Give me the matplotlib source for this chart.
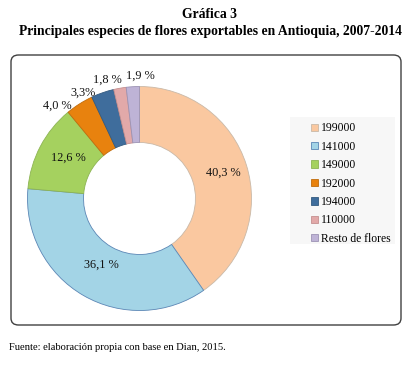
import matplotlib.pyplot as plt
from matplotlib.patches import FancyBboxPatch, Rectangle

plt.rcParams['font.family'] = ['Liberation Serif', 'DejaVu Serif']

# data
species = ['199000', '141000', '149000', '192000', '194000', '110000', 'Resto de flores']
shares = [40.3, 36.1, 12.6, 4.0, 3.3, 1.8, 1.9]
pct_labels = ['40,3 %', '36,1 %', '12,6 %', '4,0 %', '3,3%', '1,8 %', '1,9 %']
colors = ['#FAC8A0', '#A3D4E6', '#A5D15F', '#E8820E', '#3F6D9C', '#E2A9A9', '#BEB3D6']
edges = ['#C9B9A8', '#5B86B5', '#8DB454', '#C06C0C', '#335A80', '#C59090', '#9C93B4']

# label spots (unit = outer radius)
label_pos = [(0.746, 0.228), (-0.344, -0.594), (-0.638, 0.362), (-0.737, 0.826),
             (-0.504, 0.942), (-0.29, 1.058), (0.004, 1.094)]

W, H = 420, 379
fig = plt.figure(figsize=(W / 100, H / 100), dpi=100)

# frame around chart
frame = FancyBboxPatch((11 / W, 1 - 325 / H), (401 - 11) / W, (325 - 55) / H,
                       boxstyle='round,pad=0,rounding_size=0.018',
                       transform=fig.transFigure, facecolor='white',
                       edgecolor='#404040', linewidth=1.0, zorder=-2)
fig.patches.append(frame)
# legend background
fig.patches.append(Rectangle((290 / W, 1 - 244 / H), 105 / W, 127 / H,
                             transform=fig.transFigure, facecolor='#F7F7F7',
                             edgecolor='none', zorder=-1))

fig.text(0.5, 1 - 15 / H, 'Gráfica 3', ha='center', va='center',
         fontsize=9.8, fontweight='bold')
fig.text(0.5, 1 - 32 / H, 'Principales especies de flores exportables en Antioquia, 2007-2014',
         ha='center', va='center', fontsize=9.8, fontweight='bold')
fig.text(9 / W, 1 - 347 / H, 'Fuente: elaboración propia con base en Dian, 2015.',
         ha='left', va='center', fontsize=7.6)

R = 112
cx, cy = 139.5, 198.5
half = 1.2 * R
ax = fig.add_axes([(cx - half) / W, (H - cy - half) / H, 2 * half / W, 2 * half / H])
ax.set_zorder(2)
ax.patch.set_visible(False)

wedges, _ = ax.pie(shares, colors=colors, startangle=90, counterclock=False,
                   radius=1.0, wedgeprops=dict(width=0.5, linewidth=0.6))
for w, ec in zip(wedges, edges):
    w.set_edgecolor(ec)
ax.set_xlim(-1.2, 1.2)
ax.set_ylim(-1.2, 1.2)
ax.set_aspect('equal')
ax.axis('off')

for (x, y), txt in zip(label_pos, pct_labels):
    ax.text(x, y, txt, ha='center', va='center', fontsize=8.8, color='#111111')

# legend
leg = fig.legend(wedges, species, loc='upper left',
                 bbox_to_anchor=(309 / W, 1 - 120 / H), fontsize=8.4,
                 frameon=False, handlelength=0.6, handleheight=0.6,
                 handletextpad=0.2, labelspacing=0.55, borderpad=0.2, borderaxespad=0)
leg.set_zorder(3)

fig.savefig('out.png', dpi=100)
